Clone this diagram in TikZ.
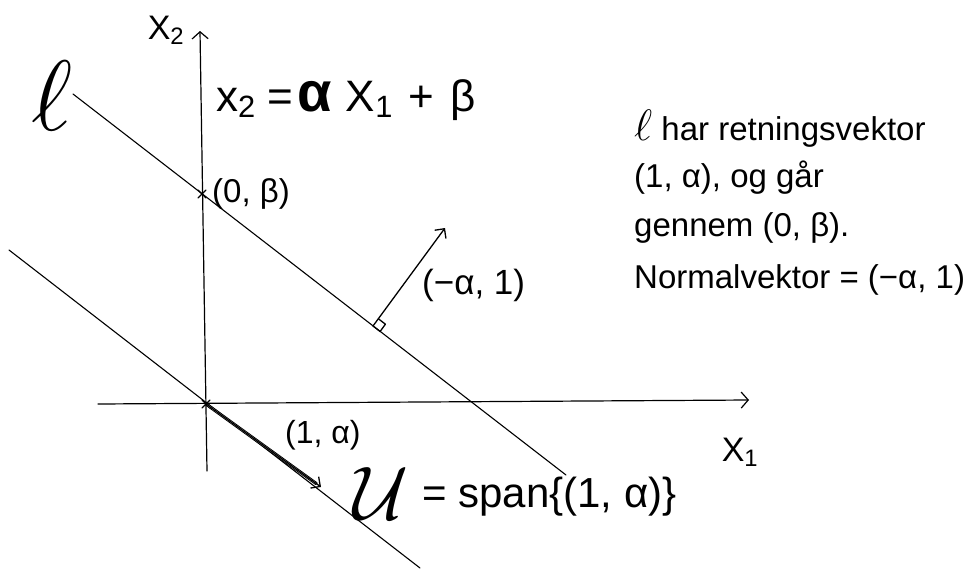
\RequirePackage{fix-cm}
\documentclass[tikz,border=0pt]{standalone}
\usepackage{fontspec}
\setmainfont{Liberation Sans}
\usetikzlibrary{arrows.meta,calc}
\begin{document}
\begin{tikzpicture}[x=1pt,y=-1pt,line cap=round,line join=round,
  thinline/.style={line width=1.1pt,black},
  axisline/.style={line width=1.2pt,black,-{Straight Barb[length=7pt,width=16pt,line width=1.2pt]}},
  vecline/.style={line width=1.3pt,black,-{Straight Barb[length=7pt,width=14pt,line width=1.3pt]}},
  lbl/.style={inner sep=0pt,font=\fontsize{33}{36}\selectfont},
  rtext/.style={inner sep=0pt,anchor=west,font=\fontsize{33}{38}\selectfont}]
\useasboundingbox (0,0) rectangle (975,568);
% points
\coordinate (O) at (206,404);
\coordinate (B) at (202,194);
\coordinate (l1) at (73,94);
\coordinate (l2) at (566,475);
\coordinate (u1) at (9,250);
\coordinate (u2) at (420,568);
\coordinate (a1s) at (98,404);
\coordinate (a1e) at (749,400);
\coordinate (a2s) at (207,471);
\coordinate (a2e) at (200,31);
\coordinate (V) at (321,487);
\coordinate (F) at (373,326);
\coordinate (N) at (445,228);
\coordinate (q1) at (380.1,331.5);
\coordinate (q2) at (385.4,324.2);
\coordinate (q3) at (378.3,318.7);
% axes
\draw[axisline] (a1s) -- (a1e);
\draw[axisline] (a2s) -- (a2e);
% lines
\draw[thinline] (l1) -- (l2);
\draw[thinline] (u1) -- (u2);
% crosses
\draw[line width=1.3pt] ([shift={(-4,-4)}]B) -- ([shift={(4,4)}]B) ([shift={(-4,4)}]B) -- ([shift={(4,-4)}]B);
\draw[line width=1.3pt] ([shift={(-4,-4)}]O) -- ([shift={(4,4)}]O) ([shift={(-4,4)}]O) -- ([shift={(4,-4)}]O);
% direction vector (double stroke)
\draw[line width=3.2pt,black] (O) -- ($(O)!0.96!(V)$);
\draw[line width=1.2pt,white,shorten <=2pt,shorten >=4pt] (O) -- (V);
\draw[vecline] (O) -- (V);
% normal vector
\draw[vecline] (F) -- (N);
\draw[line width=1.3pt] (F) -- (q1) -- (q2) -- (q3);
% labels
\node[lbl,font=\fontsize{34}{38}\selectfont] (x2) at (166,30) {X\textsubscript{2}};
\node[lbl,font=\fontsize{34}{38}\selectfont] (x1) at (740,452) {X\textsubscript{1}};
\node[lbl] (ell) at (52,96) {\fontsize{100}{110}\selectfont$\ell$};
\node[lbl,anchor=west,font=\fontsize{44}{48}\selectfont] (eq) at (216,100) {x\textsubscript{2}\hspace{12pt}=\hspace{4pt}{\fontsize{56}{58}\selectfont\bfseries α}\hspace{14pt}X\textsubscript{1}\hspace{16pt}+\hspace{16pt}β};
\node[lbl,anchor=west] (lb) at (212,194) {(0, β)};
\node[lbl,anchor=west,font=\fontsize{35}{38}\selectfont] (ln) at (422,285) {(−α, 1)};
\node[lbl,anchor=west,font=\fontsize{32}{36}\selectfont] (lv) at (285,435) {(1, α)};
\node[lbl] (U) at (381,494) {\fontsize{76}{80}\selectfont$\mathcal{U}$};
\node[lbl,anchor=west,font=\fontsize{42}{46}\selectfont] (span) at (422,497) {= span\{(1, α)\}};
% right-hand text
\node[rtext] (t1) at (634,129) {{\fontsize{44}{44}\selectfont$\ell$} har retningsvektor};
\node[rtext] (t2) at (634,178) {(1, α), og går};
\node[rtext] (t3) at (634,228) {gennem (0, β).};
\node[rtext] (t4) at (634,280) {Normalvektor = (−α, 1)};
\end{tikzpicture}
\end{document}
